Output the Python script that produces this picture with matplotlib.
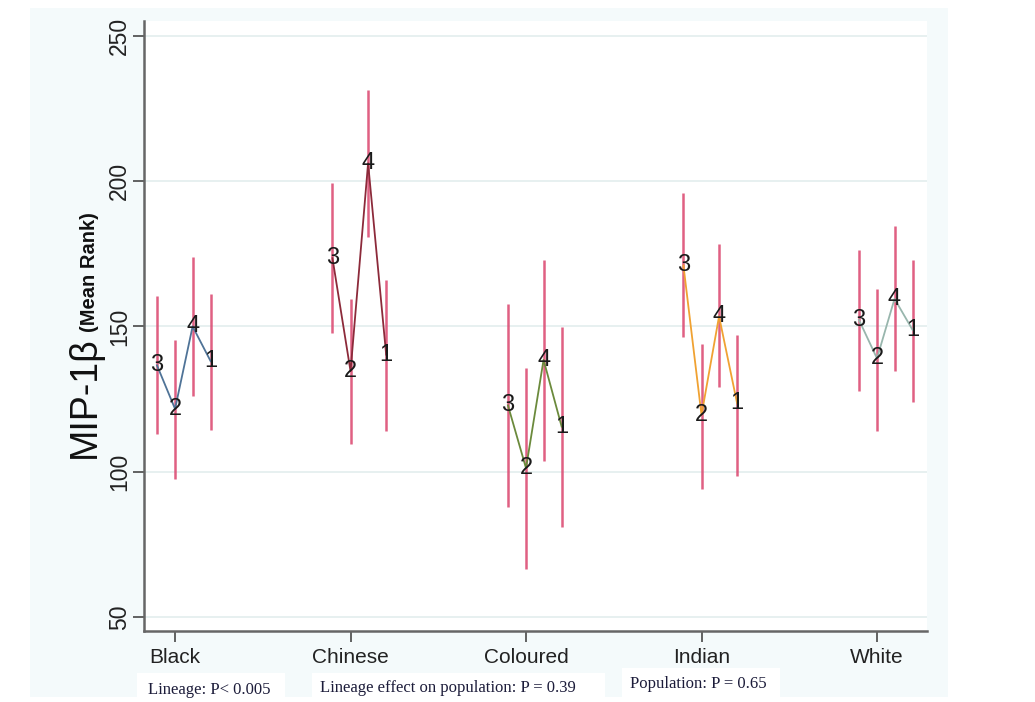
import matplotlib
matplotlib.use("Agg")
import matplotlib.pyplot as plt
from matplotlib.patches import Rectangle

# ---- data -------------------------------------------------------------
populations = ["Black", "Chinese", "Coloured", "Indian", "White"]
lineages = ["3", "2", "4", "1"]          # plotting order within each population

mean_black = [136.6, 121.6, 150.0, 138.0]
mean_chinese = [173.5, 134.6, 206.2, 140.3]
mean_coloured = [122.8, 101.2, 138.5, 115.5]
mean_indian = [171.0, 119.5, 153.5, 123.5]
mean_white = [152.3, 139.0, 159.5, 148.8]

lo_black = [112.8, 97.6, 126.0, 114.5]
lo_chinese = [147.8, 109.5, 180.8, 114.1]
lo_coloured = [87.7, 66.5, 103.8, 80.8]
lo_indian = [146.3, 94.1, 129.3, 98.6]
lo_white = [127.7, 114.1, 134.8, 123.9]

hi_black = [160.4, 145.4, 173.9, 161.3]
hi_chinese = [199.4, 159.5, 231.4, 165.9]
hi_coloured = [157.8, 135.7, 172.8, 149.8]
hi_indian = [195.8, 144.0, 178.3, 147.2]
hi_white = [176.4, 163.0, 184.5, 173.0]

y_ticks = [50, 100, 150, 200, 250]
notes = ["Lineage: P< 0.005",
         "Lineage effect on population: P = 0.39",
         "Population: P = 0.65"]

means = [mean_black, mean_chinese, mean_coloured, mean_indian, mean_white]
lows = [lo_black, lo_chinese, lo_coloured, lo_indian, lo_white]
highs = [hi_black, hi_chinese, hi_coloured, hi_indian, hi_white]
line_colors = ["#4f7397", "#8c2a3a", "#6b8a3c", "#f0a232", "#98b6ad"]
bar_color = "#dc4a72"
offsets = [-0.103, 0.0, 0.100, 0.203]

W, H = 1035, 702
plt.rcParams["font.family"] = ["Liberation Sans", "DejaVu Sans"]

fig = plt.figure(figsize=(W / 100, H / 100), dpi=100, facecolor="white")


def fx(px):
    return px / W


def fy(py):
    return (H - py) / H


# pale panel behind the plot
fig.patches.append(Rectangle((fx(30), fy(697)), fx(948) - fx(30), fy(8) - fy(697),
                             transform=fig.transFigure, facecolor="#f4fafb",
                             edgecolor="none", zorder=-5))

ax = fig.add_axes([fx(144), fy(631), fx(927) - fx(144), fy(21) - fy(631)])
ax.set_zorder(2)
ax.set_facecolor("white")
ax.set_ylim(45.1, 255.2)
ax.set_xlim(0.823, 5.285)

for yv in y_ticks:
    ax.axhline(yv, color="#e3eeee", lw=1.2, zorder=0)

for g, (m, lo, hi, lc) in enumerate(zip(means, lows, highs, line_colors)):
    xs = [g + 1 + o for o in offsets]
    ax.vlines(xs, lo, hi, color=bar_color, lw=1.8, alpha=0.88, zorder=2)
    ax.plot(xs, m, color=lc, lw=1.3, zorder=3)
    for x, v, lab in zip(xs, m, lineages):
        ax.text(x, v, lab, ha="center", va="center", fontsize=17,
                color="#1a1a1a", zorder=4)

ax.set_xticks(range(1, len(populations) + 1))
ax.set_xticklabels(populations, fontsize=15)
ax.set_yticks(y_ticks)
ax.set_yticklabels([str(v) for v in y_ticks], fontsize=16.5, rotation=90,
                   va="center")
ax.tick_params(axis="both", direction="out", length=8, width=1.3,
               color="#555555", labelcolor="#222222")
ax.tick_params(axis="x", pad=4)
ax.tick_params(axis="y", pad=1.5)
for side in ["top", "right"]:
    ax.spines[side].set_visible(False)
for side in ["left", "bottom"]:
    ax.spines[side].set_color("#666666")
    ax.spines[side].set_linewidth(1.8)

# axis title in two parts: large name plus bold unit
t1 = fig.text(fx(95), fy(458), "MIP-1\u03b2", rotation=90, rotation_mode="anchor",
              ha="left", va="baseline", fontsize=27, color="#111111")
fig.canvas.draw()
bb = t1.get_window_extent(fig.canvas.get_renderer())
fig.text(fx(95), (bb.y1 + 4) / H, "(Mean Rank)", rotation=90, rotation_mode="anchor",
         ha="left", va="baseline", fontsize=14.5, fontweight="bold", color="#111111")

# statistics notes
boxes = [(137, 673, 285, 701), (312, 673, 605, 701), (622, 668, 780, 697)]
text_pos = [(148, 690), (320, 688), (630, 684)]
for (x0, y0, x1, y1), (tx, ty), s in zip(boxes, text_pos, notes):
    fig.patches.append(Rectangle((fx(x0), fy(y1)), fx(x1) - fx(x0), fy(y0) - fy(y1),
                                 transform=fig.transFigure, facecolor="white",
                                 edgecolor="none", zorder=1))
    fig.text(fx(tx), fy(ty), s, ha="left", va="center", fontsize=12,
             family="Liberation Serif", color="#1c1c3a", zorder=3)

fig.savefig("out.png", dpi=100, facecolor="white")
